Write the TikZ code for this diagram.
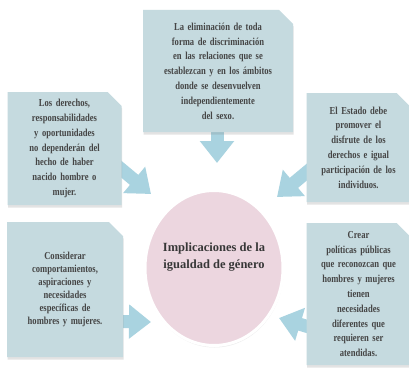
\documentclass[tikz,border=0pt]{standalone}
\usepackage{fontspec}
\setmainfont{Liberation Serif}
\newfontfamily\boxfont[FakeStretch=0.8]{Liberation Serif}
\usetikzlibrary{shapes.misc,shapes.geometric,shadows,arrows.meta}
\definecolor{boxfill}{HTML}{C5DADF}
\definecolor{arrowc}{HTML}{A9D3E0}
\definecolor{pinkc}{HTML}{ECD6DF}
\definecolor{txt}{HTML}{454545}
\pgfdeclarelayer{background}
\pgfsetlayers{background,main}
\begin{document}
\begin{tikzpicture}[x=1pt,y=-1pt,
  infobox/.style={chamfered rectangle, chamfered rectangle corners=north east,
    chamfered rectangle xsep=7pt, chamfered rectangle ysep=7pt,
    fill=boxfill, inner sep=0pt, align=center, text=txt,
    font=\boxfont\fontsize{10.7}{14.8}\selectfont\bfseries,
    drop shadow={shadow xshift=0.5pt, shadow yshift=-2.5pt, opacity=0.22}},
  barrow/.style={draw=arrowc, line width=13pt,
    -{Triangle[length=22pt,width=33pt]}}]
\useasboundingbox (0,0) rectangle (409,369);

\node[infobox, minimum width=142pt, minimum height=122pt, text width=136pt] (t) at (218,71)
 {La eliminación de toda\\ forma de discriminación\\ en las relaciones que se\\ establezcan y en los ámbitos\\ donde se desenvuelven\\ independientemente\\ del sexo.};
\node[infobox, minimum width=105pt, minimum height=113pt, text width=100pt] (l) at (64.5,148.5)
 {Los derechos,\\ responsabilidades\\ y oportunidades\\ no dependerán del\\ hecho de haber\\ nacido hombre o\\ mujer.};
\node[infobox, minimum width=93pt, minimum height=109pt, text width=90pt] (r) at (358.5,147.5)
 {El Estado debe\\ promover el\\ disfrute de los\\ derechos e igual\\ participación de los\\ individuos.};
\node[infobox, minimum width=106pt, minimum height=135pt, text width=102pt,
  font=\boxfont\fontsize{10.7}{13}\selectfont\bfseries] (bl) at (65,289.5)
 {Considerar\\ comportamientos,\\ aspiraciones y\\ necesidades\\ específicas de\\ hombres y mujeres.};
\node[infobox, minimum width=93pt, minimum height=142pt, text width=90pt] (br) at (358.5,294)
 {Crear\\ políticas públicas\\ que reconozcan que\\ hombres y mujeres\\ tienen\\ necesidades\\ diferentes que\\ requieren ser\\ atendidas.};

\node[ellipse, minimum width=138pt, minimum height=155pt, fill=pinkc, draw=white,
  line width=3pt, drop shadow={shadow xshift=0.5pt, shadow yshift=-2pt, opacity=0.15}] (c) at (214,268) {};
\node[align=center, text=txt!80!black, font=\fontsize{12.5}{17}\selectfont\bfseries] (ct) at (214,257)
 {Implicaciones de la\\ igualdad de género};

\coordinate (tipT) at (217,163);
\coordinate (tipL) at (151,194);
\coordinate (tipR) at (277,197);
\coordinate (tipBL) at (151,322);
\coordinate (tipBR) at (279,318);

\begin{pgfonlayer}{background}
\fill[white] (0,0) rectangle (409,369);
\draw[barrow] ([xshift=-1pt,yshift=4pt]t.south) -- (tipT);
\draw[barrow] ([xshift=-6pt,yshift=-16pt]l.east) -- (tipL);
\draw[barrow] ([xshift=6pt,yshift=-20pt]r.west) -- (tipR);
\draw[barrow] ([xshift=-6pt,yshift=-32pt]bl.east) -- (tipBL);
\draw[barrow] ([xshift=6pt,yshift=-34pt]br.west) -- (tipBR);
\end{pgfonlayer}
\end{tikzpicture}
\end{document}
